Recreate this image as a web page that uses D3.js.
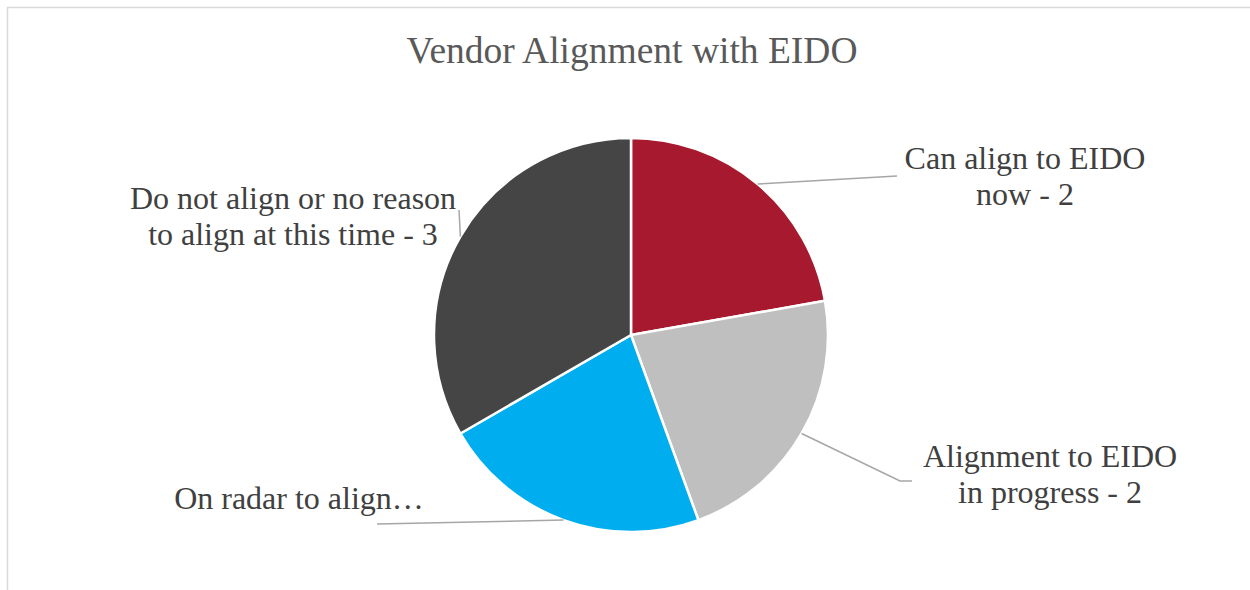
<!DOCTYPE html>
<html>
<head>
<meta charset="utf-8">
<script src="https://cdn.jsdelivr.net/npm/d3@7"></script>
<style>
    body { margin: 0; background: #fff; }
    svg { display: block; }
    .serif { font-family: "Liberation Serif", "DejaVu Serif", serif; }
</style>
</head>
<body>
<svg id="chart" width="1250" height="590"></svg>
<script>
var title = "Vendor Alignment with EIDO";
var categories = [
    "Can align to EIDO now",
    "Alignment to EIDO in progress",
    "On radar to align",
    "Do not align or no reason to align at this time"
];
var counts = [2, 2, 2, 3];
var labelLines = [
    ["Can align to EIDO", "now - 2"],
    ["Alignment to EIDO", "in progress - 2"],
    ["On radar to align\u2026"],
    ["Do not align or no reason", "to align at this time - 3"]
];
var colors = ["#a6192e", "#bfbfbf", "#00aeef", "#454545"];

// label layout (pixel positions of label text and leader elbows)
var labelLayout = [
    {x: 1025, y: 169, anchor: "middle", elbow: [897, 176], end: [897, 176]},
    {x: 1050, y: 467, anchor: "middle", elbow: [900, 481], end: [912, 481]},
    {x: 299, y: 509, anchor: "middle", elbow: [377, 524], end: [377, 524]},
    {x: 293, y: 209, anchor: "middle", elbow: [459, 210], end: [459, 210]}
];

d3.select(window).on('load', init);

function init() {
    var svg = d3.select('#chart');
    var cx = 631, cy = 335, radius = 197;
    var lineHeight = 36;

    // chart frame
    svg.append("rect")
        .attr("x", 7.5)
        .attr("y", 7.5)
        .attr("width", 1260)
        .attr("height", 600)
        .attr("fill", "none")
        .attr("stroke", "#d9d9d9")
        .attr("stroke-width", 1.5);

    svg.append("text")
        .attr("class", "serif")
        .attr("x", 632)
        .attr("y", 63)
        .attr("text-anchor", "middle")
        .attr("font-size", 37.5)
        .attr("fill", "#595959")
        .text(title);

    var data = categories.map(function(c, i) {
        return {name: c, value: counts[i], idx: i};
    });

    var pie = d3.pie()
        .sort(null)
        .value(function(d) { return d.value; });

    var arc = d3.arc()
        .innerRadius(0)
        .outerRadius(radius);

    var arcs = pie(data);

    var g = svg.append("g")
        .attr("transform", "translate(" + cx + "," + cy + ")");

    g.selectAll("path")
        .data(arcs)
        .enter()
        .append("path")
        .attr("d", arc)
        .attr("fill", function(d) { return colors[d.data.idx]; })
        .attr("stroke", "#fff")
        .attr("stroke-width", 2.5)
        .attr("stroke-linejoin", "round");

    // leader lines from slice mid-angle on the rim
    arcs.forEach(function(d, i) {
        var mid = (d.startAngle + d.endAngle) / 2;
        var px = cx + radius * Math.sin(mid);
        var py = cy - radius * Math.cos(mid);
        var L = labelLayout[i];
        var pts = [[px, py], L.elbow, L.end];
        svg.append("path")
            .attr("d", d3.line()(pts))
            .attr("fill", "none")
            .attr("stroke", "#a6a6a6")
            .attr("stroke-width", 1.5);
    });

    labelLines.forEach(function(lines, i) {
        var L = labelLayout[i];
        var t = svg.append("text")
            .attr("class", "serif")
            .attr("text-anchor", L.anchor)
            .attr("font-size", 32)
            .attr("fill", "#404040");
        lines.forEach(function(s, j) {
            t.append("tspan")
                .attr("x", L.x)
                .attr("y", L.y + j * lineHeight)
                .text(s);
        });
    });
}
</script>
</body>
</html>
